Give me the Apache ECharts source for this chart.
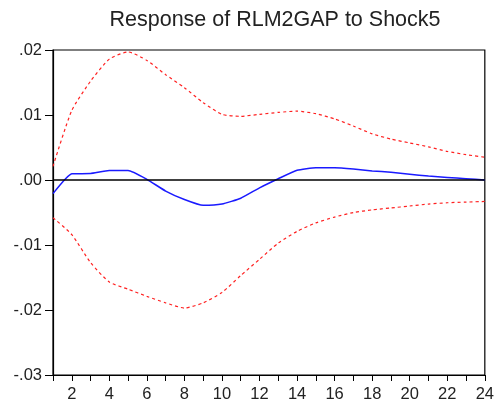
<!DOCTYPE html>
<html>
<head>
<meta charset="utf-8">
<script src="https://cdn.jsdelivr.net/npm/echarts@6/dist/echarts.min.js"></script>
<style>html,body{margin:0;padding:0;background:#fff}#c{width:497px;height:406px}</style>
</head>
<body>
<div id="c"></div>
<script>
var periods = [1,2,3,4,5,6,7,8,9,10,11,12,13,14,15,16,17,18,19,20,21,22,23,24];
var response = [-0.0021,0.00095,0.0010,0.00146,0.00146,0.0001,-0.0017,-0.0030,-0.0039,-0.0037,-0.0028,-0.0012,0.0002,0.0015,0.0019,0.0019,0.0017,0.0014,0.0012,0.0009,0.0006,0.0004,0.0002,0.0000];
var upperBand = [0.0021,0.0107,0.0152,0.0186,0.0197,0.0184,0.0162,0.0142,0.0119,0.0101,0.0098,0.0101,0.0104,0.0106,0.0102,0.0094,0.0083,0.0071,0.0063,0.0057,0.0051,0.0044,0.0039,0.0035];
var lowerBand = [-0.0058,-0.0084,-0.0127,-0.0157,-0.0168,-0.0179,-0.0189,-0.0197,-0.0189,-0.0173,-0.0147,-0.0122,-0.0097,-0.0079,-0.0066,-0.0057,-0.0050,-0.0046,-0.0043,-0.0040,-0.0037,-0.0035,-0.0034,-0.0033];
var yMin = -0.03, yMax = 0.02, yStep = 0.01;
var titleText = 'Response of RLM2GAP to Shock5';

var chart = echarts.init(document.getElementById('c'), null, {renderer: 'canvas'});
var font = '"Liberation Sans", Arial, sans-serif';
function fmt(v) {
  var s = Math.abs(v).toFixed(2).replace(/^0/, '');
  return (v < -1e-9 ? '-' : '') + s;
}
var redDash = {color: '#ff2020', width: 1.2, type: [3, 3]};
chart.setOption({
  animation: false,
  backgroundColor: '#fff',
  title: {
    text: titleText, left: 270, top: 4, textAlign: 'center',
    textStyle: {fontFamily: font, fontSize: 21.5, fontWeight: 'normal', color: '#222'}
  },
  grid: {left: 53, right: 10, top: 50, bottom: 31, show: true, borderColor: '#000', borderWidth: 1.2, backgroundColor: 'transparent'},
  xAxis: {
    type: 'category', data: periods, boundaryGap: false,
    axisLine: {onZero: false, lineStyle: {color: '#000', width: 1.2}},
    axisTick: {show: true, interval: 0, length: 6, lineStyle: {color: '#000'}},
    axisLabel: {interval: function (i) { return i % 2 === 1; }, margin: 11, color: '#222', fontFamily: font, fontSize: 16.5},
    splitLine: {show: false}
  },
  yAxis: {
    type: 'value', min: yMin, max: yMax, interval: yStep,
    axisLine: {show: true, lineStyle: {color: '#000', width: 1.2}},
    axisTick: {show: true, length: 8, lineStyle: {color: '#000'}},
    axisLabel: {formatter: fmt, margin: 11, color: '#222', fontFamily: font, fontSize: 16.5},
    splitLine: {show: false}
  },
  series: [
    {type: 'line', data: upperBand, symbol: 'none', smooth: 0.2, lineStyle: redDash, z: 2},
    {type: 'line', data: lowerBand, symbol: 'none', smooth: 0.2, lineStyle: redDash, z: 2},
    {type: 'line', data: response, symbol: 'none', smooth: 0.15, lineStyle: {color: '#1a1aff', width: 1.5}, z: 3,
     markLine: {silent: true, symbol: 'none', label: {show: false}, lineStyle: {color: '#000', width: 1.5, type: 'solid'}, data: [{yAxis: 0}]}}
  ]
});
</script>
</body>
</html>
